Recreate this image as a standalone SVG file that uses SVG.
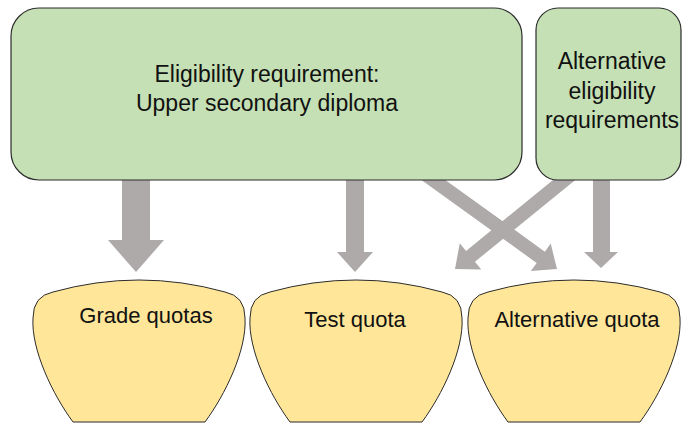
<svg xmlns="http://www.w3.org/2000/svg" width="683" height="426" viewBox="0 0 683 426">
  <style>
    .req { fill: #C5E0B4; stroke: #2b2b2b; stroke-width: 1.2; }
    .quota { fill: #FFE699; stroke: #2b2b2b; stroke-width: 1; }
    .arrow { fill: #AEAAAA; stroke: none; }
    .lbl { font-family: "Liberation Sans", Arial, sans-serif; fill: #111; text-anchor: middle; }
    .big { font-size: 23px; }
    .small { font-size: 22px; }
  </style>
  <defs>
    <!-- bucket-like quota container, left edge at x=0 -->
    <path id="bucket" d="M 40,422 C 20,395 -2,350 0,318 Q 0,296 20,292 Q 106,268 192,292 Q 212,296 212,318 C 214,350 192,395 172,422 Z"/>
  </defs>

  <rect width="683" height="426" fill="#ffffff"/>

  <g id="connectors">
    <!-- diploma -> grade quotas -->
    <polygon class="arrow" points="122,170 150,170 150,240 164,240 136,272 108,240 122,240"/>
    <!-- diploma -> test quota -->
    <polygon class="arrow" points="346,170 364,170 364,252 373,252 355,272 337,252 346,252"/>
    <!-- diploma -> alternative quota -->
    <polygon class="arrow" transform="translate(557,269) rotate(35.75)" points="-165,-7 -20,-7 -20,-17 0,0 -20,17 -20,7 -165,7"/>
    <!-- alternative eligibility -> test quota -->
    <polygon class="arrow" transform="translate(455,269) rotate(140.8)" points="-165,-7 -20,-7 -20,-17 0,0 -20,17 -20,7 -165,7"/>
    <!-- alternative eligibility -> alternative quota -->
    <polygon class="arrow" points="593,170 610,170 610,252 618,252 601,268 584,252 593,252"/>
  </g>

  <g id="diploma">
    <rect class="req" x="11" y="8" width="511" height="172" rx="28" ry="28"/>
    <text class="lbl big" x="267" y="82">Eligibility requirement:</text>
    <text class="lbl big" x="267" y="111">Upper secondary diploma</text>
  </g>

  <g id="alt-eligibility">
    <rect class="req" x="536" y="8" width="145" height="172" rx="22" ry="22"/>
    <text class="lbl big" x="612" y="69">Alternative</text>
    <text class="lbl big" x="612" y="99">eligibility</text>
    <text class="lbl big" x="612" y="128">requirements</text>
  </g>

  <g id="grade-quotas">
    <use href="#bucket" class="quota" x="33"/>
    <text class="lbl small" x="146" y="323">Grade quotas</text>
  </g>

  <g id="test-quota">
    <use href="#bucket" class="quota" x="250"/>
    <text class="lbl small" x="355" y="327">Test quota</text>
  </g>

  <g id="alternative-quota">
    <use href="#bucket" class="quota" x="468"/>
    <text class="lbl small" x="577" y="327">Alternative quota</text>
  </g>
</svg>
